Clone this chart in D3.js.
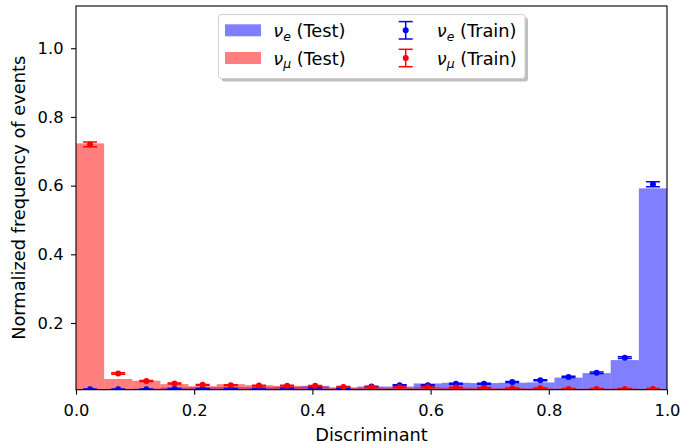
<!DOCTYPE html>
<html><head><meta charset="utf-8">
<script src="https://cdn.jsdelivr.net/npm/d3@7"></script>
<style>body{margin:0;background:#fff}svg{display:block;font-family:"DejaVu Sans",sans-serif}</style>
</head><body><svg id="c" width="683" height="444"></svg>
<script>
const nBins = 21;
const binEdges = d3.range(nBins + 1).map(i => i / nBins);
const nueTest  = [0.007,0.008,0.009,0.012,0.013,0.013,0.013,0.014,0.017,0.010,0.015,0.015,0.024,0.026,0.025,0.026,0.027,0.041,0.054,0.092,0.592];
const numuTest = [0.723,0.037,0.032,0.022,0.016,0.022,0.019,0.017,0.015,0.013,0.012,0.011,0.013,0.012,0.011,0.011,0.010,0.009,0.009,0.010,0.008];
const nueTrain  = [0.007,0.007,0.007,0.008,0.008,0.008,0.008,0.009,0.012,0.010,0.015,0.019,0.019,0.023,0.023,0.028,0.033,0.043,0.055,0.099,0.604];
const nueTrainErr  = [0.001,0.001,0.001,0.001,0.001,0.001,0.001,0.001,0.001,0.001,0.001,0.001,0.001,0.0013,0.0013,0.0014,0.0015,0.0017,0.002,0.0026,0.007];
const numuTrain = [0.720,0.053,0.031,0.024,0.020,0.019,0.018,0.0175,0.017,0.014,0.013,0.013,0.013,0.012,0.011,0.010,0.010,0.008,0.008,0.008,0.008];
const numuTrainErr = [0.007,0.0019,0.0015,0.0013,0.0012,0.0011,0.0011,0.0011,0.0011,0.001,0.001,0.001,0.001,0.001,0.001,0.001,0.001,0.001,0.001,0.001,0.001];
const xTicks = [0, 0.2, 0.4, 0.6, 0.8, 1.0];
const yTicks = [0.2, 0.4, 0.6, 0.8, 1.0];

const FS_TICK = 16.3, FS = 17.8;
const svg = d3.select('#c');
const L = 76, R = 667, T = 6, B = 389.7;
const x = d3.scaleLinear().domain([0, 1]).range([L, R]);
const y = d3.scaleLinear().domain([0.0058, 1.123]).range([B, T]);

const g = svg.append('g');
g.append('clipPath').attr('id','clip').append('rect').attr('x',L).attr('y',T).attr('width',R-L).attr('height',B-T);
const plot = g.append('g').attr('clip-path','url(#clip)');

function bars(vals, color) {
  plot.append('g').selectAll('rect').data(vals).join('rect')
    .attr('x', (d,i) => x(binEdges[i]))
    .attr('width', (d,i) => x(binEdges[i+1]) - x(binEdges[i]))
    .attr('y', d => y(d))
    .attr('height', d => B - y(d) + 2)
    .attr('fill', color).attr('fill-opacity', 0.5);
}
bars(nueTest, '#0000ff');
bars(numuTest, '#ff0000');

function errs(vals, errsArr, color) {
  const gg = plot.append('g');
  vals.forEach((v, i) => {
    const cx = x((binEdges[i] + binEdges[i+1]) / 2);
    const e = errsArr[i];
    gg.append('line').attr('x1', cx).attr('x2', cx).attr('y1', y(v - e)).attr('y2', y(v + e))
      .attr('stroke', color).attr('stroke-width', 1.5);
    [v - e, v + e].forEach(t => gg.append('line').attr('x1', cx - 7).attr('x2', cx + 7)
      .attr('y1', y(t)).attr('y2', y(t)).attr('stroke', color).attr('stroke-width', 1.5));
    gg.append('circle').attr('cx', cx).attr('cy', y(v)).attr('r', 3).attr('fill', color);
  });
}
errs(nueTrain, nueTrainErr, '#0000ff');
errs(numuTrain, numuTrainErr, '#ff0000');

// axes
const xAxis = d3.axisBottom(x).tickValues(xTicks).tickFormat(d3.format('.1f')).tickSizeOuter(0).tickSize(5).tickPadding(9.5);
const yAxis = d3.axisLeft(y).tickValues(yTicks).tickFormat(d3.format('.1f')).tickSizeOuter(0).tickSize(5).tickPadding(7.5);
const gx = g.append('g').attr('transform', `translate(0,${B})`).call(xAxis);
const gy = g.append('g').attr('transform', `translate(${L},0)`).call(yAxis);
[gx, gy].forEach(a => {
  a.select('.domain').remove();
  a.selectAll('text').attr('font-size', FS_TICK).attr('font-family', '"DejaVu Sans",sans-serif').attr('fill', '#000');
  a.selectAll('line').attr('stroke', '#000').attr('stroke-width', 1.1);
});
gx.selectAll('text').attr('dy', null).attr('y', 416 - B);
g.append('rect').attr('x', L).attr('y', T).attr('width', R - L).attr('height', B - T)
  .attr('fill', 'none').attr('stroke', '#000').attr('stroke-width', 1.1);

g.append('text').attr('x', (L + R) / 2).attr('y', 440.5).attr('text-anchor', 'middle')
  .attr('font-size', FS).text('Discriminant');
g.append('text').attr('transform', `translate(25,${(T + B) / 2}) rotate(-90)`).attr('text-anchor', 'middle')
  .attr('font-size', FS).text('Normalized frequency of events');

// legend
const lg = svg.append('g');
const lx = 218.5, ly = 14.5, lw = 306.5, lh = 64;
lg.append('rect').attr('x', lx + 3).attr('y', ly + 3).attr('width', lw).attr('height', lh).attr('rx', 3)
  .attr('fill', '#808080').attr('fill-opacity', 0.5);
lg.append('rect').attr('x', lx).attr('y', ly).attr('width', lw).attr('height', lh).attr('rx', 3)
  .attr('fill', '#fff').attr('stroke', '#d0d0d0').attr('stroke-width', 1);
const entries = [
  {type: 'patch', color: '#0000ff', sub: 'e', lab: ' (Test)', px: 225, row: 0},
  {type: 'patch', color: '#ff0000', sub: 'μ', lab: ' (Test)', px: 225, row: 1},
  {type: 'err', color: '#0000ff', sub: 'e', lab: ' (Train)', px: 405.7, row: 0},
  {type: 'err', color: '#ff0000', sub: 'μ', lab: ' (Train)', px: 405.7, row: 1}
];
entries.forEach(en => {
  const cy = [30.3, 58][en.row];
  if (en.type === 'patch') {
    lg.append('rect').attr('x', en.px).attr('y', cy - 6).attr('width', 36).attr('height', 12)
      .attr('fill', en.color).attr('fill-opacity', 0.5);
  } else {
    lg.append('line').attr('x1', en.px).attr('x2', en.px).attr('y1', cy - 8.7).attr('y2', cy + 8.7)
      .attr('stroke', en.color).attr('stroke-width', 1.5);
    [cy - 8.7, cy + 8.7].forEach(t => lg.append('line').attr('x1', en.px - 7).attr('x2', en.px + 7)
      .attr('y1', t).attr('y2', t).attr('stroke', en.color).attr('stroke-width', 1.5));
    lg.append('circle').attr('cx', en.px).attr('cy', cy).attr('r', 3).attr('fill', en.color);
  }
  const tx = en.type === 'patch' ? 273.3 : 436.7;
  const t = lg.append('text').attr('x', tx).attr('y', cy + 6.8).attr('font-size', FS);
  t.append('tspan').attr('font-style', 'italic').text('ν');
  t.append('tspan').attr('font-style', 'italic').attr('font-size', FS * 0.7).attr('dy', 3.5).text(en.sub);
  t.append('tspan').attr('dy', -3.5).text(en.lab);
});
</script></body></html>
